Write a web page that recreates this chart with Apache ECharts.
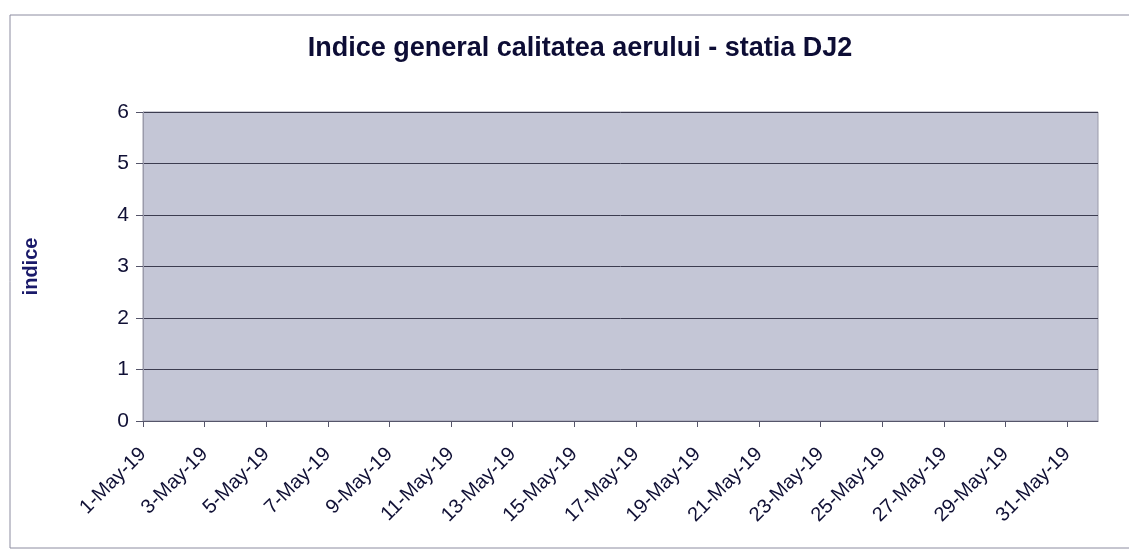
<!DOCTYPE html>
<html>
<head>
<meta charset="utf-8">
<script src="https://cdn.jsdelivr.net/npm/echarts@6/dist/echarts.min.js"></script>
<style>
	html, body { margin: 0; padding: 0; background: #fff; }
	#chart { width: 1129px; height: 560px; }
</style>
</head>
<body>
<div id="chart"></div>
<script>
// zilele lunii (axa include si 1-Jun ca in Excel, fara eticheta)
const days = [];
for (let d = 1; d <= 32; d++) {
	days.push(d <= 31 ? d + '-May-19' : '1-Jun-19');
}
// nicio valoare vizibila in grafic
const indiceValues = [
	null, null, null, null, null, null, null, null, null, null,
	null, null, null, null, null, null, null, null, null, null,
	null, null, null, null, null, null, null, null, null, null,
	null
];
const yTicks = [0, 1, 2, 3, 4, 5, 6];

const chart = echarts.init(document.getElementById('chart'));
chart.setOption({
	animation: false,
	textStyle: { fontFamily: 'Liberation Sans, Arial, sans-serif' },
	title: {
		text: 'Indice general calitatea aerului - statia DJ2',
		left: 575,
		textAlign: 'center',
		top: 30,
		textStyle: { fontSize: 27, fontWeight: 'bold', color: '#0d0d35' }
	},
	graphic: [{
		type: 'rect',
		shape: { x: 10, y: 15, width: 1125, height: 533 },
		style: { fill: 'none', stroke: '#8c8ca0', lineWidth: 1 },
		silent: true
	}],
	grid: {
		left: 143, right: 31, top: 112, bottom: 139,
		show: true,
		backgroundColor: '#c4c6d6',
		borderColor: '#9a9aaa',
		borderWidth: 1
	},
	xAxis: {
		type: 'category',
		data: days,
		boundaryGap: false,
		axisLine: { show: true, lineStyle: { color: '#55556a', width: 1 } },
		axisTick: { show: true, interval: 1, length: 6, lineStyle: { color: '#55556a' } },
		axisLabel: {
			interval: 1,
			rotate: 45,
			fontSize: 20,
			color: '#101035',
			margin: 30
		},
		splitLine: { show: false }
	},
	yAxis: {
		type: 'value',
		min: yTicks[0],
		max: yTicks[yTicks.length - 1],
		interval: 1,
		name: 'indice',
		nameLocation: 'middle',
		nameRotate: 90,
		nameGap: 102,
		nameTextStyle: { fontSize: 20, fontWeight: 'bold', color: '#1a1a6a' },
		axisLine: { show: true, lineStyle: { color: '#9a9aaa' } },
		axisTick: { show: true, length: 7, lineStyle: { color: '#55556a' } },
		axisLabel: { fontSize: 21, color: '#101035', margin: 14 },
		splitLine: { show: true, lineStyle: { color: '#3c3c50', width: 1 } }
	},
	series: [{
		name: 'indice',
		type: 'line',
		data: indiceValues,
		showSymbol: false,
		lineStyle: { color: '#000080', width: 2 }
	}]
});
</script>
</body>
</html>
